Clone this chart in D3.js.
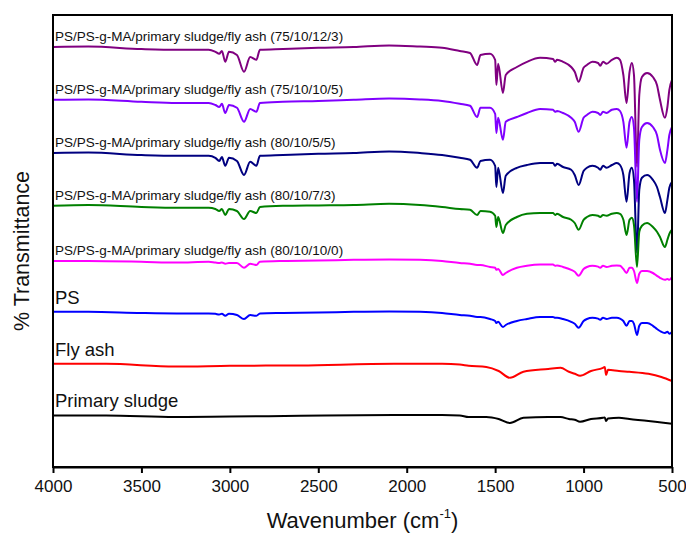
<!DOCTYPE html>
<html>
<head>
<meta charset="utf-8">
<script src="https://cdn.jsdelivr.net/npm/d3@7/dist/d3.min.js"></script>
<style>
  html, body { margin: 0; padding: 0; background: #fff; }
  svg { display: block; font-family: "Liberation Sans", Arial, sans-serif; }
</style>
</head>
<body>
<svg id="chart" width="686" height="534"></svg>
<script>
// FTIR spectra, stacked with vertical offsets (%T, arbitrary offset units)

// wavenumber grid (cm-1) for the polystyrene-containing samples
const wnPS = [4000, 3800, 3500, 3300, 3120, 3082, 3060, 3045, 3026, 3005, 2960, 2920, 2885, 2850, 2830,
  2700, 2500, 2300, 2100, 1925, 1800, 1700, 1642, 1602, 1583, 1529, 1500, 1493, 1483, 1456,
  1440, 1377, 1320, 1246, 1173, 1160, 1150, 1116, 1070, 1050, 1028, 1000, 981, 950, 918,
  906, 890, 870, 840, 812, 794, 775, 757, 740, 727, 715, 698, 685, 670, 641, 608, 585, 568,
  540, 526, 515, 500];

const blend_75_10_12_3 = [105, 105.1, 104.5, 104.3, 104.3, 103.8, 103.3, 104, 101.3, 103.8, 103, 98.8, 102.5, 101.8, 104.3,
  104.5, 104.8, 105, 105.4, 105.1, 104.8, 104, 103.5, 100.5, 103, 103.3, 101.8, 95.5, 100.8, 93.5,
  98, 100, 101.3, 102.3, 102, 101.3, 101.8, 101.3, 100, 98.8, 96.3, 99.8, 100.5, 101.3, 101,
  100.3, 101.3, 100.8, 101.8, 102.3, 101.8, 98, 91, 98.8, 101, 98, 75, 93, 97.5, 98.5, 97.5, 95.5, 91.8,
  87.3, 90, 94.3, 96.8];

const blend_75_10_10_5 = [91.8, 91.9, 91.3, 91, 91, 90.5, 90, 90.8, 88.5, 90.5, 89.8, 86.3, 89.5, 88.8, 91,
  91.3, 91.5, 91.8, 92.1, 91.9, 91.5, 90.8, 90.3, 87.5, 89.8, 89.8, 88.3, 83.5, 87.3, 81.8,
  86.3, 87.5, 88.5, 89.5, 89.3, 88.8, 89, 88.5, 87.3, 86.3, 83.8, 87.3, 88, 88.8, 88.5,
  88, 88.8, 88.5, 89.3, 89.5, 89, 86.3, 79.8, 86.3, 87.5, 84.8, 66.3, 81.8, 85, 86, 85, 83, 79.3,
  76, 79.3, 83, 85];

const blend_80_10_5_5 = [78.5, 78.6, 78, 77.8, 77.8, 77.3, 76.5, 77.5, 75.3, 77.3, 76.5, 73, 76.3, 75.3, 77.8,
  78, 78.3, 78.5, 78.9, 78.5, 78, 77.3, 76.8, 74.8, 76.5, 76.8, 75.3, 70, 74.8, 68.5,
  72.8, 74.8, 75.5, 76, 76, 75.3, 75.8, 75, 74.3, 73, 70.5, 74, 74.8, 75.3, 74.8,
  74.3, 75.3, 74.8, 75.5, 76, 75.5, 73, 66.3, 73.5, 74.8, 71.8, 53.5, 69.3, 72.3, 73, 71.8, 70, 67.5,
  63.5, 66.8, 69.8, 71.3];

const blend_80_10_7_3 = [65.3, 65.5, 65, 64.8, 64.8, 64.5, 64, 64.5, 63, 64.5, 64, 62, 64, 63.5, 65,
  65.3, 65.4, 65.5, 65.8, 65.5, 65, 64.5, 64.3, 63, 64, 63.8, 62.8, 60, 62.5, 58.5,
  60.5, 62.5, 63.3, 63.5, 63.5, 63, 63.3, 62.5, 61.8, 61, 59.3, 61.8, 62.5, 63, 62.8,
  62.5, 63, 62.8, 63.3, 63.5, 63.3, 61.8, 58, 61.8, 62.3, 60.5, 50, 58.8, 60.3, 61, 60, 58.8, 57.5,
  55, 56.8, 58.3, 59.3];

const blend_80_10_10_0 = [51.5, 51.5, 51.3, 51.1, 51.3, 51.1, 51, 51.1, 50.8, 51, 51, 49.8, 50.8, 50.5, 51.3,
  51.5, 51.6, 51.8, 51.9, 51.8, 51.5, 51, 50.8, 50.5, 50.5, 50, 49.8, 49.3, 49.5, 48,
  48.5, 49.8, 50.3, 50.6, 50.6, 50.3, 50.4, 50, 49.3, 48.8, 47.8, 49.5, 50, 50.3, 50.1,
  49.8, 50.3, 50, 50.3, 50.4, 50.3, 49.5, 48.5, 49.8, 49.8, 49, 46, 48.3, 49, 49, 48.5, 47.8, 47.3,
  46.8, 47, 46.8, 47.5];

const neatPS = [38.8, 38.8, 38.5, 38.4, 38.4, 38.3, 38.1, 38.3, 37.8, 38.3, 38, 37, 38, 37.8, 38.4,
  38.5, 38.6, 38.8, 38.9, 38.8, 38.5, 38, 37.8, 37.5, 37.5, 37, 36.5, 36, 36.3, 35,
  35.5, 36.5, 37, 37.5, 37.5, 37.3, 37.3, 37, 36.3, 35.8, 34.8, 36.5, 37, 37.3, 37.1,
  36.8, 37.3, 37, 37.3, 37.3, 37.1, 36.5, 35.3, 36.5, 36.5, 35.8, 33, 35.3, 36, 36, 35.3, 34.5, 34,
  33.5, 33.8, 33.3, 33.8];

// wavenumber grid (cm-1) for the inorganic fillers
const wnFiller = [4000, 3700, 3310, 3000, 2600, 2072, 1800, 1700, 1650, 1550, 1480, 1416, 1340, 1200,
  1130, 1083, 1050, 1020, 958, 890, 880, 873, 862, 800, 741, 633, 560, 500];

const flyAsh = [25.8, 25.8, 25.1, 25.3, 25.4, 25.8, 25.8, 25.6, 25.3, 25, 24, 22.3, 23.8, 24.5,
  24.8, 23.8, 23.3, 22.8, 24, 24.8, 25, 23, 24.3, 24, 23.8, 23.3, 22.5, 21.5];

const primarySludge = [12.9, 12.9, 12.5, 12.6, 12.8, 13, 13, 12.9, 12.5, 12.5, 12, 11, 12.3, 12.5,
  12.5, 12, 11.8, 11.3, 12, 12.3, 12.4, 11.5, 12.1, 12.3, 12, 11.5, 11.1, 10.8];

const seriesNames = [
  "PS/PS-g-MA/primary sludge/fly ash (75/10/12/3)",
  "PS/PS-g-MA/primary sludge/fly ash (75/10/10/5)",
  "PS/PS-g-MA/primary sludge/fly ash (80/10/5/5)",
  "PS/PS-g-MA/primary sludge/fly ash (80/10/7/3)",
  "PS/PS-g-MA/primary sludge/fly ash (80/10/10/0)",
  "PS",
  "Fly ash",
  "Primary sludge"
];
const seriesColors = ["#800080", "#8000ff", "#000080", "#008000", "#ff00ff", "#0000ff", "#ff0000", "#000000"];

const xTicks = [4000, 3500, 3000, 2500, 2000, 1500, 1000, 500];

const series = [
  { name: seriesNames[0], wn: wnPS, t: blend_75_10_12_3, color: seriesColors[0], big: false },
  { name: seriesNames[1], wn: wnPS, t: blend_75_10_10_5, color: seriesColors[1], big: false },
  { name: seriesNames[2], wn: wnPS, t: blend_80_10_5_5, color: seriesColors[2], big: false },
  { name: seriesNames[3], wn: wnPS, t: blend_80_10_7_3, color: seriesColors[3], big: false },
  { name: seriesNames[4], wn: wnPS, t: blend_80_10_10_0, color: seriesColors[4], big: false },
  { name: seriesNames[5], wn: wnPS, t: neatPS, color: seriesColors[5], big: true },
  { name: seriesNames[6], wn: wnFiller, t: flyAsh, color: seriesColors[6], big: true },
  { name: seriesNames[7], wn: wnFiller, t: primarySludge, color: seriesColors[7], big: true }
];

const svg = d3.select("#chart");
const margin = { left: 53, right: 14, top: 15, bottom: 67 };
const W = 686, H = 534;
const x = d3.scaleLinear().domain([4000, 500]).range([margin.left, W - margin.right]);
const y = d3.scaleLinear().domain([0, 113]).range([H - margin.bottom, margin.top]);

// spectra
const line = d3.line()
  .x(d => x(d[0]))
  .y(d => y(d[1]))
  .curve(d3.curveMonotoneX);

series.forEach(s => {
  const pts = s.wn.map((w, i) => [w, s.t[i]]).sort((a, b) => a[0] - b[0]);
  svg.append("path")
    .datum(pts)
    .attr("fill", "none")
    .attr("stroke", s.color)
    .attr("stroke-width", 2)
    .attr("stroke-linejoin", "round")
    .attr("d", line);
});

// sample labels above each trace
series.forEach(s => {
  svg.append("text")
    .attr("x", x(4000) + 2)
    .attr("y", y(s.t[0]) - (s.big ? 8 : 6))
    .attr("font-size", s.big ? 18.5 : 13.5)
    .attr("fill", "#111")
    .text(s.name);
});

// frame
svg.append("rect")
  .attr("x", margin.left).attr("y", margin.top)
  .attr("width", W - margin.right - margin.left)
  .attr("height", H - margin.bottom - margin.top)
  .attr("fill", "none").attr("stroke", "#000").attr("stroke-width", 2);

// bottom axis
const xAxis = d3.axisBottom(x).tickValues(xTicks).tickSize(6).tickSizeOuter(0).tickFormat(d3.format("d"));
const gx = svg.append("g")
  .attr("transform", `translate(0,${H - margin.bottom})`)
  .call(xAxis);
gx.select(".domain").attr("stroke-width", 2);
gx.selectAll(".tick line").attr("stroke-width", 2);
gx.selectAll(".tick text")
  .attr("font-size", 17)
  .attr("font-family", "Liberation Sans, Arial, sans-serif")
  .attr("fill", "#111")
  .attr("dy", "0.95em");

// axis titles
const xt = svg.append("text")
  .attr("x", (margin.left + W - margin.right) / 2)
  .attr("y", 528)
  .attr("text-anchor", "middle")
  .attr("font-size", 22)
  .attr("fill", "#111");
xt.append("tspan").text("Wavenumber (cm");
xt.append("tspan").attr("font-size", 13).attr("dy", -10).text("-1");
xt.append("tspan").attr("dy", 10).text(")");

svg.append("text")
  .attr("transform", `translate(29,${(margin.top + H - margin.bottom) / 2 + 10}) rotate(-90)`)
  .attr("text-anchor", "middle")
  .attr("font-size", 21.5)
  .attr("fill", "#111")
  .text("% Transmittance");
</script>
</body>
</html>
